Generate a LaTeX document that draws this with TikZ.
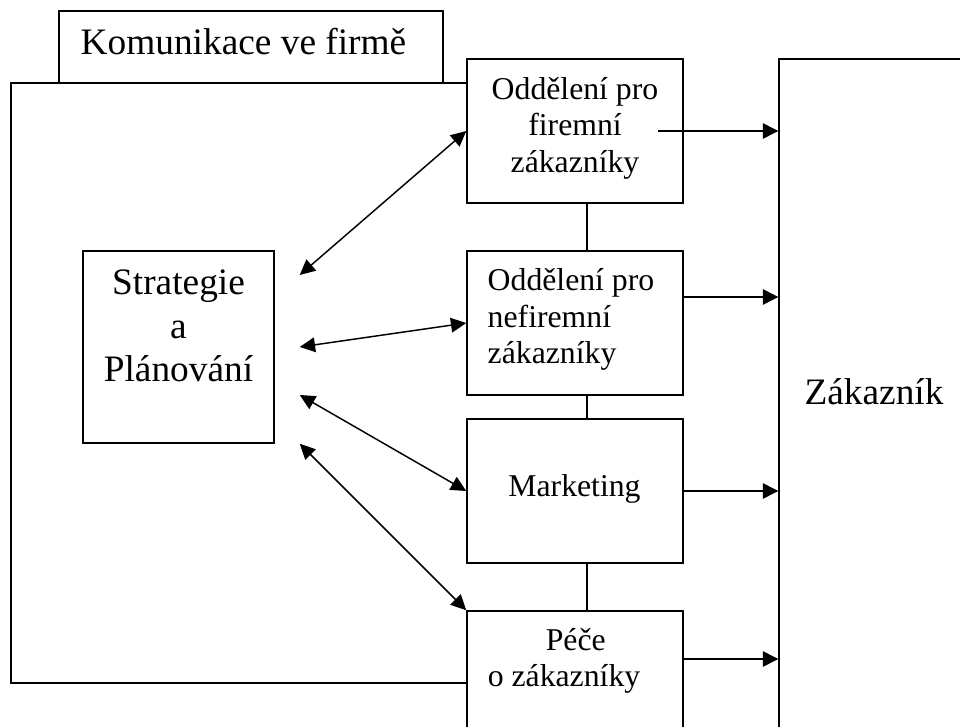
\documentclass[tikz,border=0pt]{standalone}
\usepackage{fontspec}
\setmainfont{Liberation Serif}
\usetikzlibrary{arrows.meta,calc}
\begin{document}
\begin{tikzpicture}[x=0.75pt,y=-0.75pt,
  line width=1.1pt,
  boxshape/.style={draw=black,fill=white,rectangle,inner sep=0pt,minimum width=#1},
  deptbox/.style={boxshape=162pt,minimum height=108pt},
  bigtext/.style={inner sep=0pt,font=\fontsize{28}{32.6}\selectfont},
  depttext/.style={inner sep=0pt,font=\fontsize{23.8}{27.4}\selectfont},
  arr/.style={-{Triangle[length=11.5pt,width=11.5pt]}},
  darr/.style={{Triangle[length=11.5pt,width=11pt]}-{Triangle[length=11.5pt,width=11pt]}}
]
\useasboundingbox (0,0) rectangle (960,727);
\clip (0,0) rectangle (960,727);

% outer frame "Komunikace ve firme"
\node[boxshape=288pt,minimum height=54pt] (titlebox) at (251,47) {};
\node[bigtext,anchor=base west] (titlet) at (80,55) {Komunikace ve firmě};
\draw (466,83) -- (11,83) -- (11,683) -- (466,683);

% customer box
\node[boxshape=142.5pt,minimum height=514.5pt] (zak) at (874,402) {};
\node[bigtext] (zakt) at (874,392) {Zákazník};

% strategy box
\node[boxshape=143.25pt,minimum height=144pt] (strat) at (178.5,347) {};
\node[bigtext,align=center] (stratt) at (178.5,326) {Strategie\\a\\Plánování};

% departments
\node[deptbox] (b1) at (575,131) {};
\node[depttext,align=center] (b1t) at (575,128) {Oddělení pro\\firemní\\zákazníky};
\node[deptbox] (b2) at (575,323) {};
\node[depttext,align=left] (b2t) at (571,319.5) {Oddělení pro\\nefiremní\\zákazníky};
\node[deptbox] (b3) at (575,491) {};
\node[depttext] (b3t) at (574.5,488.5) {Marketing};
\node[deptbox] (pece) at (575,683) {};
\node[depttext,align=left] (pecet) at (564,661) {\hspace*{43.5pt}Péče\\o zákazníky};

% vertical links between departments
\draw ([xshift=9pt]b1.south) -- ([xshift=9pt]b2.north);
\draw ([xshift=9pt]b2.south) -- ([xshift=9pt]b3.north);
\draw ([xshift=9pt]b3.south) -- ([xshift=9pt]pece.north);

% arrows to customer
\coordinate (a1s) at (658,131);
\draw[arr] (a1s) -- (a1s -| zak.west);
\coordinate (a2s) at (683,297);
\draw[arr] (a2s) -- (a2s -| zak.west);
\draw[arr] (b3.east) -- (b3.east -| zak.west);
\coordinate (a4s) at (683,659);
\draw[arr] (a4s) -- (a4s -| zak.west);

% double arrows from strategy
\draw[darr] ($(strat.east)+(25,-72)$) -- (b1.west);
\draw[darr] ($(strat.east)+(25,0)$) -- (b2.west);
\draw[darr] ($(strat.east)+(25,48)$) -- (b3.west);
\draw[darr] ($(strat.south east)+(25,0)$) -- (pece.north west);
\end{tikzpicture}
\end{document}
